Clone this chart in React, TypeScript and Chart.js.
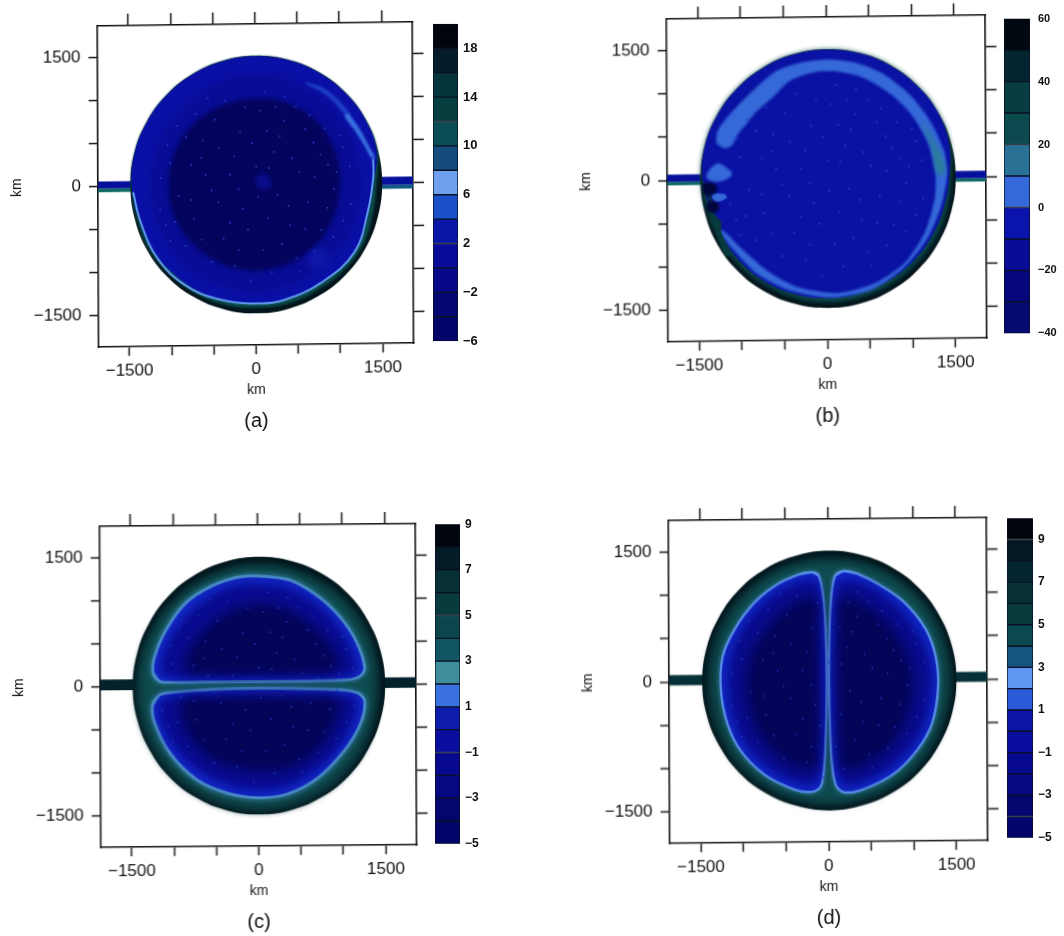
import React, { useEffect, useRef } from "react";
import { Chart, registerables } from "chart.js";

// Softens the edge of a filled contour; registered first so it runs before the filler.
const softEdges = {
  id: "softEdges",
  beforeDatasetDraw(chart: any, args: any) {
    const soft = chart.data.datasets[args.index].soft;
    if (soft) chart.ctx.filter = `blur(${soft}px)`;
  },
  afterDatasetDraw(chart: any) {
    chart.ctx.filter = "none";
  },
};
Chart.register(softEdges, ...registerables);
Chart.defaults.font.family = '"Liberation Sans", Arial, sans-serif';
Chart.defaults.color = "#111";

// ---- axes ----
const AXIS_LIMIT = 1865;
const axisTicks = [-1500, -1000, -500, 0, 500, 1000, 1500];
const labelledTicks = [-1500, 0, 1500];
const ANGLES = [0, 15, 30, 45, 60, 75, 90, 105, 120, 135, 150, 165, 180, 195, 210, 225, 240, 255, 270, 285, 300, 315, 330, 345];

// ---- colour bars (levels and colours, low to high) ----
const levelsA = [-6, -4, -2, 0, 2, 4, 6, 8, 10, 12, 14, 16, 18, 20];
const colorsA = ["#04056a", "#040672", "#060888", "#080c98", "#0a16a8", "#1a50c8", "#6ea0ee", "#144c7e", "#0c4c54", "#063e40", "#05343c", "#041c2a", "#01060c"];
const labelsA = [-6, -2, 2, 6, 10, 14, 18];
const levelsB = [-40, -30, -20, -10, 0, 10, 20, 30, 40, 50, 60];
const colorsB = ["#050a70", "#05077a", "#090c96", "#0a14ac", "#3568d8", "#2a7196", "#0c4a50", "#083e42", "#052630", "#020810"];
const labelsB = [-40, -20, 0, 20, 40, 60];
const levelsC = [-5, -4, -3, -2, -1, 0, 1, 2, 3, 4, 5, 6, 7, 8, 9];
const colorsC = ["#04056a", "#04066e", "#050880", "#070a8e", "#0a0e9e", "#0e1cae", "#3a70e0", "#3f8c9c", "#125664", "#0c464c", "#083a3e", "#063034", "#041c28", "#01060e"];
const labelsC = [-5, -3, -1, 1, 3, 5, 7, 9];
const levelsD = [-5, -4, -3, -2, -1, 0, 1, 2, 3, 4, 5, 6, 7, 8, 9, 10];
const colorsD = ["#04056a", "#04066e", "#050880", "#070a8e", "#0a0e9e", "#0c14a8", "#2a5ad8", "#5f96f0", "#14547e", "#0c4850", "#083a3e", "#063034", "#052630", "#031822", "#01060e"];
const labelsD = [-5, -3, -1, 1, 3, 5, 7, 9];

// ---- panel (a): contour radii in km at ANGLES, and outlines in km ----
const discA = [1490, 1490, 1495, 1495, 1495, 1495, 1495, 1495, 1495, 1495, 1495, 1495, 1490, 1490, 1495, 1495, 1495, 1495, 1495, 1495, 1495, 1495, 1495, 1490];
const tealA = [1425, 1485, 1490, 1490, 1490, 1490, 1490, 1490, 1490, 1490, 1490, 1490, 1480, 1465, 1470, 1455, 1450, 1440, 1430, 1435, 1430, 1445, 1450, 1425];
const blueA = [1390, 1475, 1490, 1490, 1490, 1490, 1490, 1490, 1490, 1490, 1490, 1490, 1475, 1445, 1445, 1420, 1410, 1390, 1380, 1382, 1380, 1400, 1405, 1370];
const midA = [1240, 1240, 1250, 1250, 1260, 1270, 1280, 1270, 1260, 1250, 1250, 1250, 1250, 1250, 1250, 1250, 1250, 1240, 1240, 1240, 1240, 1240, 1240, 1240];
const darkA = [1000, 1010, 1020, 1030, 1020, 1010, 1000, 1000, 1010, 1020, 1030, 1030, 1030, 1030, 1020, 1010, 1000, 1000, 1000, 1000, 1010, 1010, 1000, 1000];
const ridgeA = [[1395, 280], [1395, 60], [1327, -340], [1168, -802], [773, -1150], [338, -1343], [22, -1381], [-453, -1323], [-848, -1150], [-1164, -841], [-1362, -417], [-1449, -69]];
const crescentUpperA = [[605, 1184], [800, 1120], [980, 980], [1130, 800], [1090, 770], [940, 940], [780, 1070], [605, 1160]];
const crescentLowerA = [[1100, 810], [1230, 640], [1340, 440], [1420, 290], [1375, 290], [1290, 440], [1175, 620], [1060, 780]];
const spotA1 = [[60, 120], [150, 100], [190, 20], [130, -50], [40, -30], [0, 40]];
const spotA2 = [[600, -860], [700, -760], [850, -790], [880, -900], [780, -990], [650, -960]];
const leftChannelTopA = [[-1865, 60], [-1470, 60], [-1470, -25], [-1865, -25]];
const leftChannelLowA = [[-1865, -25], [-1470, -25], [-1470, -66], [-1865, -66]];
const rightChannelTopA = [[1470, 70], [1865, 70], [1865, -25], [1470, -25]];
const rightChannelLowA = [[1470, -25], [1865, -25], [1865, -68], [1470, -68]];

// ---- panel (b) ----
const discB = [1495, 1495, 1495, 1495, 1495, 1495, 1495, 1495, 1495, 1495, 1495, 1495, 1490, 1490, 1495, 1495, 1495, 1495, 1495, 1495, 1495, 1495, 1495, 1495];
const tealB = [1445, 1480, 1490, 1490, 1490, 1490, 1490, 1490, 1490, 1490, 1490, 1490, 1480, 1460, 1440, 1440, 1430, 1430, 1430, 1430, 1430, 1430, 1440, 1440];
const blueB = [1420, 1470, 1490, 1490, 1490, 1490, 1490, 1490, 1490, 1490, 1490, 1490, 1465, 1410, 1400, 1400, 1395, 1385, 1380, 1380, 1380, 1385, 1390, 1400];
const bandB = [[-1283, 536], [-1240, 620], [-1130, 756], [-837, 1045], [-575, 1253], [-262, 1350], [51, 1377], [364, 1330], [677, 1196], [989, 945], [1224, 636], [1380, 289], [1410, 19], [1340, -328], [1180, -700], [900, -1040], [520, -1290], [51, -1375], [-430, -1290], [-820, -1090], [-1130, -770], [-1270, -570], [-1200, -598], [-1005, -791], [-692, -1061], [-340, -1253], [129, -1323], [559, -1215], [911, -983], [1146, -636], [1263, -251], [1271, 58], [1185, 405], [989, 733], [755, 964], [442, 1157], [129, 1234], [-106, 1234], [-418, 1138], [-620, 950], [-840, 760], [-954, 617], [-1036, 524], [-1100, 400], [-1189, 363], [-1283, 420]];
const greenPatchB = [[1120, 640], [1260, 420], [1370, 180], [1380, 40], [1290, 60], [1240, 320]];
const blobB1 = [[-1400, 73], [-1283, 189], [-1189, 154], [-1107, 62], [-1247, -19], [-1388, 4]];
const blobB2 = [[-1340, -170], [-1200, -165], [-1170, -210], [-1300, -250]];
const darkB1 = [[-1440, -40], [-1300, -60], [-1300, -150], [-1420, -170]];
const darkB2 = [[-1390, -250], [-1270, -270], [-1280, -370], [-1390, -360]];
const notchB = [[-1455, -20], [-1380, -220], [-1350, -430], [-1300, -520], [-1290, -640], [-1180, -880], [-1120, -860], [-1230, -620], [-1240, -480], [-1310, -400], [-1340, -240], [-1400, -80]];
const leftChannelTopB = [[-1865, 69], [-1460, 69], [-1460, -20], [-1865, -20]];
const leftChannelLowB = [[-1865, -20], [-1460, -20], [-1460, -58], [-1865, -58]];
const rightChannelTopB = [[1460, 69], [1865, 69], [1865, -20], [1460, -20]];
const rightChannelLowB = [[1460, -20], [1865, -20], [1865, -58], [1460, -58]];

// ---- panel (c) ----
const discC = [1490, 1490, 1490, 1495, 1495, 1495, 1495, 1495, 1495, 1495, 1490, 1490, 1490, 1490, 1490, 1495, 1495, 1495, 1495, 1495, 1495, 1495, 1490, 1490];
const outerC = [1430, 1430, 1430, 1425, 1420, 1420, 1420, 1420, 1420, 1425, 1435, 1445, 1450, 1460, 1460, 1465, 1465, 1470, 1470, 1470, 1465, 1460, 1450, 1435];
const innerC = [1360, 1370, 1375, 1375, 1370, 1365, 1370, 1370, 1370, 1375, 1385, 1395, 1400, 1395, 1395, 1395, 1390, 1390, 1395, 1390, 1390, 1385, 1375, 1365];
const upperRidgeC = [[-1161, 58], [-1240, 155], [-1220, 350], [-1083, 661], [-846, 972], [-531, 1166], [-216, 1263], [59, 1271], [374, 1224], [689, 1049], [965, 797], [1161, 505], [1260, 194], [1201, 97], [1043, 58], [492, 47], [20, 47], [-531, 47], [-1004, 47]];
const lowerRidgeC = [[-1161, -97], [-1248, -214], [-1220, -428], [-1043, -777], [-728, -1088], [-374, -1244], [-20, -1302], [335, -1263], [689, -1088], [1004, -777], [1201, -466], [1260, -194], [1181, -97], [965, -58], [492, -39], [20, -31], [-531, -39], [-1004, -70]];
const upperMidC = [[-1120, 130], [-1120, 360], [-980, 640], [-760, 900], [-470, 1090], [-200, 1170], [60, 1180], [360, 1130], [650, 970], [900, 740], [1080, 470], [1170, 200], [1120, 120], [500, 100], [0, 100], [-500, 100]];
const upperDarkC = [[-850, 170], [-820, 400], [-600, 680], [-300, 880], [60, 950], [400, 860], [700, 640], [900, 400], [950, 170], [500, 130], [0, 125], [-500, 130]];
const lowerMidC = [[-1130, -150], [-1150, -420], [-960, -750], [-680, -1000], [-350, -1160], [-20, -1210], [320, -1175], [650, -1010], [950, -730], [1110, -450], [1170, -190], [1100, -130], [500, -95], [0, -90], [-500, -95]];
const lowerDarkC = [[-900, -170], [-880, -450], [-650, -780], [-300, -950], [50, -1000], [400, -950], [700, -760], [900, -450], [950, -170], [500, -130], [0, -125], [-500, -130]];
const channelLeftC = [[-1865, 85], [-1400, 85], [-1400, -39], [-1865, -39]];
const channelRightC = [[1400, 82], [1865, 82], [1865, -39], [1400, -39]];

// ---- panel (d) ----
const discD = [1490, 1490, 1490, 1495, 1495, 1495, 1500, 1495, 1495, 1495, 1490, 1490, 1490, 1490, 1490, 1495, 1495, 1495, 1500, 1495, 1495, 1495, 1490, 1490];
const outerD = [1440, 1440, 1440, 1430, 1425, 1425, 1425, 1425, 1425, 1430, 1435, 1440, 1440, 1445, 1450, 1455, 1450, 1450, 1450, 1450, 1450, 1450, 1445, 1440];
const innerD = [1370, 1370, 1375, 1380, 1380, 1375, 1360, 1375, 1380, 1375, 1370, 1365, 1360, 1365, 1375, 1385, 1390, 1390, 1390, 1390, 1390, 1385, 1375, 1370];
const leftRidgeD = [[-183, 1251], [-105, 1213], [-55, 979], [-27, 591], [-16, 8], [-27, -575], [-47, -964], [-86, -1216], [-183, -1283], [-398, -1255], [-749, -1080], [-1022, -808], [-1178, -497], [-1256, -109], [-1237, 280], [-1100, 591], [-866, 902], [-593, 1115], [-320, 1232]];
const rightRidgeD = [[187, 1263], [90, 1213], [43, 979], [20, 591], [12, 8], [23, -575], [43, -964], [90, -1216], [187, -1294], [421, -1255], [773, -1080], [1046, -808], [1221, -497], [1291, -70], [1260, 280], [1143, 591], [890, 902], [616, 1096], [343, 1232]];
const leftMidD = [[-120, 1130], [-320, 1140], [-580, 1030], [-820, 830], [-1030, 550], [-1150, 260], [-1170, -100], [-1100, -470], [-950, -760], [-700, -1000], [-380, -1170], [-170, -1190], [-110, -1100], [-90, -900], [-70, -500], [-70, 0], [-75, 600], [-95, 950]];
const leftDarkD = [[-130, 950], [-400, 880], [-680, 650], [-880, 350], [-960, 0], [-900, -400], [-700, -760], [-400, -980], [-150, -1010], [-110, -600], [-110, 0], [-115, 600]];
const rightMidD = [[130, 1130], [340, 1140], [600, 1020], [840, 820], [1050, 540], [1180, 260], [1210, -80], [1140, -470], [980, -760], [730, -1000], [410, -1170], [180, -1200], [120, -1100], [95, -900], [70, -500], [65, 0], [75, 600], [100, 950]];
const rightDarkD = [[140, 950], [420, 880], [700, 650], [900, 350], [990, 0], [930, -400], [730, -760], [420, -980], [160, -1010], [115, -600], [110, 0], [115, 600]];
const channelLeftD = [[-1865, 80], [-1430, 80], [-1430, -38], [-1865, -38]];
const channelRightD = [[1430, 85], [1865, 85], [1865, -31], [1430, -31]];

// ---- pale specks scattered over the interiors, km ----
const specks = [[-820, 560], [-640, 320], [-480, 760], [-300, 120], [-180, 610], [60, 860], [220, 380], [340, 740], [520, 140], [690, 480], [860, 220], [-910, -120], [-730, -390], [-520, -60], [-380, -620], [-150, -280], [90, -760], [260, -120], [410, -480], [620, -210], [780, -540], [-1010, 260], [-560, 1010], [120, 1080], [930, -60], [-250, -940], [480, -860], [-1060, -460], [1040, 420], [10, 210], [-90, -520], [350, 1020],
  [-1120, 90], [-1040, 470], [-930, 690], [-760, 240], [-700, 830], [-590, 120], [-430, 430], [-360, 980], [-250, 330], [-120, 900], [-40, 480], [140, 620], [160, 190], [290, 560], [430, 300], [480, 900], [590, 640], [640, 800], [770, 340], [820, 640], [960, 130], [1000, 560], [1120, 200], [1130, -240], [1040, -430], [920, -620], [850, -280], [700, -780], [590, -520], [520, -1010], [390, -250], [310, -690], [190, -1020], [150, -390], [30, -140], [-60, -1120], [-200, -760], [-300, -440], [-440, -200], [-520, -890], [-640, -630], [-760, -170], [-830, -700], [-950, -420], [-1130, -280], [-1010, -640], [-620, 520], [240, 900], [700, 80], [-200, -50]];

type Pt = { x: number; y: number };
type Layer = Record<string, unknown>;
const pairsToPoints = (pairs: number[][]): Pt[] => pairs.map(([x, y]) => ({ x, y }));
// wrap round with one point either side, so a spline loop has no cusp at its seam
const loop = (p: Pt[]) => [p[p.length - 1], ...p, p[0], p[1]];
const closed = (pairs: number[][]) => loop(pairsToPoints(pairs));
const box = (pairs: number[][]) => { const p = pairsToPoints(pairs); return [...p, p[0]]; };
const ring = (radii: number[], cx = 0, cy = 0) =>
  loop(radii.map((r, i) => ({ x: cx + r * Math.cos((ANGLES[i] * Math.PI) / 180), y: cy + r * Math.sin((ANGLES[i] * Math.PI) / 180) })));
const area = (data: Pt[], color: string, tension = 0.4, soft = 0, border = color, width = 0): Layer => ({
  data, backgroundColor: color, borderColor: border, borderWidth: width, fill: "shape", showLine: true, pointRadius: 0, tension, soft,
});
const stroke = (data: Pt[], color: string, width: number, soft = 0): Layer => ({
  data, borderColor: color, borderWidth: width, fill: false, showLine: true, pointRadius: 0, tension: 0.4, backgroundColor: color, soft,
});
const dots = (color: string): Layer => ({
  data: pairsToPoints(specks), pointRadius: 0.9, pointBackgroundColor: color, pointBorderWidth: 0, showLine: false, fill: false,
});

const layersA: Layer[] = [
  area(box(leftChannelTopA), "#07109a", 0),
  area(box(leftChannelLowA), "#0f6a66", 0),
  area(box(rightChannelTopA), "#07109a", 0),
  area(box(rightChannelLowA), "#0f5a80", 0),
  area(ring(discA, 10), "#03141c"),
  area(ring(tealA, 10), "#0b4a48", 0.4, 1),
  area(ring(blueA, 10), "#0a10a6"),
  area(ring(midA, 10), "#080c94", 0.4, 4),
  area(closed(crescentUpperA), "#1c3ec4", 0.3, 1),
  area(closed(crescentLowerA), "#3a72e2", 0.3, 1),
  stroke(pairsToPoints(ridgeA), "#5f9cf0", 2),
  area(ring(darkA, 0), "#04045e", 0.4, 2),
  area(closed(spotA1), "#090d8c", 0.4, 2),
  area(closed(spotA2), "#0e16a8", 0.4, 3),
  dots("#2440c8"),
];
const layersB: Layer[] = [
  area(box(leftChannelTopB), "#07109a", 0),
  area(box(leftChannelLowB), "#0f6a66", 0),
  area(box(rightChannelTopB), "#07109a", 0),
  area(box(rightChannelLowB), "#0f6a66", 0),
  area(ring(discB, 15), "#021018"),
  area(ring(tealB, 15), "#0c4a4c", 0.4, 2.5),
  area(ring(blueB, 15), "#0a12a4"),
  area(closed(bandB), "#3568d8", 0.25, 0.8),
  area(closed(greenPatchB), "#2a7f98", 0.4, 2),
  area(closed(notchB), "#063a3e", 0.3, 0.6),
  area(closed(blobB1), "#3568d8", 0.4, 0.8),
  area(closed(blobB2), "#3568d8", 0.4, 0.6),
  area(closed(darkB1), "#03063c", 0.4, 0.8),
  area(closed(darkB2), "#03063c", 0.4, 0.8),
  dots("#2a48d0"),
];
const layersC: Layer[] = [
  area(box(channelLeftC), "#04222c", 0),
  area(box(channelRightC), "#04222c", 0),
  area(ring(discC, 10), "#03161c"),
  area(ring(outerC, 10), "#0a3238", 0.4, 3),
  area(ring(innerC, 10), "#0e4c50", 0.4, 4),
  stroke(loop(pairsToPoints(upperRidgeC)), "#1f6070", 8, 1.5),
  stroke(loop(pairsToPoints(lowerRidgeC)), "#1f6070", 8, 1.5),
  area(closed(upperRidgeC), "#1226c4", 0.3, 0, "#4a8cc8", 3),
  area(closed(lowerRidgeC), "#1226c4", 0.3, 0, "#4a8cc8", 3),
  area(closed(upperMidC), "#080b90", 0.35, 4),
  area(closed(lowerMidC), "#080b90", 0.35, 4),
  area(closed(upperDarkC), "#040458", 0.35, 6),
  area(closed(lowerDarkC), "#040458", 0.35, 6),
  dots("#2038c0"),
];
const layersD: Layer[] = [
  area(box(channelLeftD), "#063038", 0),
  area(box(channelRightD), "#063038", 0),
  area(ring(discD, 15), "#03161c"),
  area(ring(outerD, 15), "#0a3238", 0.4, 3),
  area(ring(innerD, 15), "#0e4c50", 0.4, 4),
  stroke(loop(pairsToPoints(leftRidgeD)), "#1f6070", 6, 1.5),
  stroke(loop(pairsToPoints(rightRidgeD)), "#1f6070", 6, 1.5),
  area(closed(leftRidgeD), "#1024c2", 0.3, 0, "#5a92ea", 2.4),
  area(closed(rightRidgeD), "#1024c2", 0.3, 0, "#5a92ea", 2.4),
  area(closed(leftMidD), "#080b8c", 0.35, 4),
  area(closed(rightMidD), "#080b8c", 0.35, 4),
  area(closed(leftDarkD), "#040458", 0.35, 6),
  area(closed(rightDarkD), "#040458", 0.35, 6),
  dots("#2038c0"),
];

const fmt = (v: number) => String(v).replace("-", "\u2212");

const BELOW = 64;
const TITLE_H = 31.8;
const LEFT = 98;
const TOP = 24;
const RIGHT = 16;

function plotConfig(layers: Layer[], title: string) {
  const common = { min: -AXIS_LIMIT, max: AXIS_LIMIT };
  const setTicks = (s: any) => { s.ticks = axisTicks.map((value) => ({ value })); };
  const border = { display: true, color: "#111", width: 1.6 };
  const grid = (len: number) => ({ display: true, drawOnChartArea: false, drawTicks: true, tickLength: len, tickColor: "#111", tickWidth: 1.5 });
  const labelled = (padding: number) => ({
    font: { size: 17 }, padding, autoSkip: false, maxRotation: 0, color: "#111",
    callback: (v: number) => (labelledTicks.includes(v) ? fmt(v) : ""),
  });
  const hidden = { display: false, autoSkip: false, maxRotation: 0 };
  return {
    type: "scatter",
    data: { datasets: layers.map((l, i) => ({ ...l, order: layers.length - i })) },
    options: {
      responsive: false, animation: false, events: [],
      layout: { padding: 0 },
      plugins: {
        legend: { display: false }, tooltip: { enabled: false },
        title: { display: true, fullSize: false, text: title, position: "bottom", font: { size: 20, weight: "normal" }, color: "#111", padding: { top: 0, bottom: 7.8 } },
      },
      scales: {
        x: { type: "linear", position: "bottom", ...common, afterBuildTicks: setTicks, afterFit: (s: any) => { s.height = BELOW; }, border, grid: grid(9), ticks: labelled(5), title: { display: true, text: "km", font: { size: 14 }, color: "#111", padding: { top: 0, bottom: 11 } } },
        y: { type: "linear", position: "left", ...common, afterBuildTicks: setTicks, afterFit: (s: any) => { s.width = LEFT; }, border, grid: grid(9), ticks: labelled(8), title: { display: true, text: "km", font: { size: 14 }, color: "#111", padding: { top: 9, bottom: 0 } } },
        x2: { type: "linear", position: "top", ...common, afterBuildTicks: setTicks, afterFit: (s: any) => { s.height = TOP; }, border, grid: grid(12), ticks: hidden },
        y2: { type: "linear", position: "right", ...common, afterBuildTicks: setTicks, afterFit: (s: any) => { s.width = RIGHT; }, border, grid: grid(11), ticks: hidden },
      },
    },
  };
}

function barConfig(levels: number[], colors: string[], labels: number[], fontSize: number, pad: number, width: number) {
  return {
    type: "bar",
    data: {
      labels: [""],
      datasets: colors.map((c, i) => ({ data: [[levels[i], levels[i + 1]]], backgroundColor: c, borderColor: "#0a1020", borderWidth: 1, borderSkipped: false, grouped: false, barPercentage: 1, categoryPercentage: 1 })),
    },
    options: {
      responsive: false, animation: false, events: [],
      layout: { padding: { top: 10, bottom: 10, left: 0, right: 0 } },
      plugins: { legend: { display: false }, tooltip: { enabled: false } },
      scales: {
        x: { display: false, grid: { display: false } },
        y: {
          position: "right", min: levels[0], max: levels[levels.length - 1],
          afterBuildTicks: (s: any) => { s.ticks = labels.map((value) => ({ value })); },
          afterFit: (s: any) => { s.width = width; },
          border: { display: false }, grid: { display: false, drawTicks: false, tickLength: 0 },
          ticks: { font: { size: fontSize, weight: "bold" }, padding: pad, color: "#111", autoSkip: false, callback: (v: number) => fmt(v) },
        },
      },
    },
  };
}

function ChartCanvas({ config, left, top, width, height, transform, origin }: any) {
  const ref = useRef<HTMLCanvasElement>(null);
  useEffect(() => {
    const chart = new Chart(ref.current as HTMLCanvasElement, config);
    return () => chart.destroy();
  }, []);
  return (
    <canvas
      ref={ref}
      width={width}
      height={height}
      style={{ position: "absolute", left, top, width, height, transform, transformOrigin: origin, filter: "blur(0.4px)" }}
    />
  );
}

function Panel({ rect, skewY, skewX, layers, title, bar }: any) {
  const [L, T, R, B] = rect;
  const W = R - L;
  const H = B - T;
  const cw = LEFT + W + RIGHT;
  const ch = TOP + H + BELOW + TITLE_H;
  return (
    <>
      <ChartCanvas
        config={plotConfig(layers, title)}
        left={L - LEFT}
        top={T - TOP}
        width={cw}
        height={ch}
        transform={`matrix(1, ${skewY}, ${skewX}, 1, 0, 0)`}
        origin={`${LEFT + W / 2}px ${TOP + H / 2}px`}
      />
      <ChartCanvas
        config={barConfig(bar.levels, bar.colors, bar.labels, bar.size, bar.pad, bar.label)}
        left={bar.x0}
        top={bar.y0 - 10}
        width={bar.x1 - bar.x0 + bar.label}
        height={bar.y1 - bar.y0 + 20}
      />
    </>
  );
}

export default function App() {
  return (
    <div style={{ position: "absolute", left: 0, top: 0, width: 1064, height: 936, background: "#fff", overflow: "hidden" }}>
      <Panel rect={[98.3, 24, 413.3, 345.5]} skewY={-0.013} skewX={0.004} layers={layersA} title="(a)"
        bar={{ levels: levelsA, colors: colorsA, labels: labelsA, size: 13, pad: 5, label: 34, x0: 433, x1: 458, y0: 21, y1: 344 }} />
      <Panel rect={[666.5, 17, 985, 340]} skewY={-0.0125} skewX={0.005} layers={layersB} title="(b)"
        bar={{ levels: levelsB, colors: colorsB, labels: labelsB, size: 11, pad: 8, label: 34, x0: 1004, x1: 1030, y0: 14, y1: 338 }} />
      <Panel rect={[100, 525, 415.5, 846.5]} skewY={-0.0085} skewX={0.004} layers={layersC} title="(c)"
        bar={{ levels: levelsC, colors: colorsC, labels: labelsC, size: 12, pad: 5, label: 34, x0: 435, x1: 460, y0: 522, y1: 846 }} />
      <Panel rect={[669, 519, 987, 842]} skewY={-0.0095} skewX={0.004} layers={layersD} title="(d)"
        bar={{ levels: levelsD, colors: colorsD, labels: labelsD, size: 12, pad: 5, label: 31, x0: 1007, x1: 1033, y0: 516, y1: 840 }} />
    </div>
  );
}
